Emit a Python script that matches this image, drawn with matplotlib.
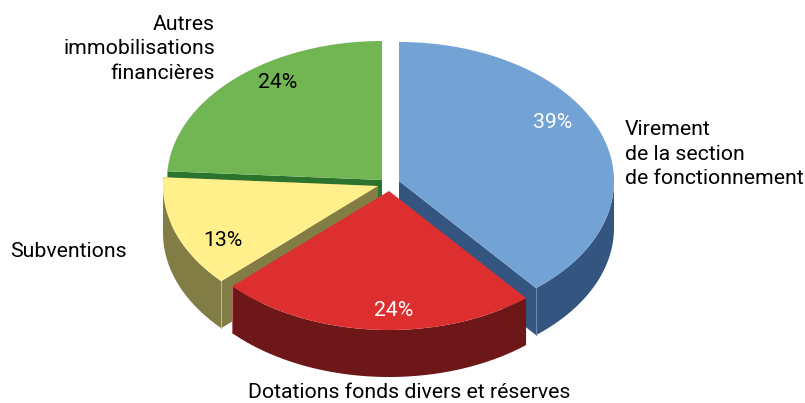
import numpy as np
import matplotlib
matplotlib.use("Agg")
from matplotlib import pyplot as plt
from matplotlib.patches import Polygon

# parts, clockwise from the top
categories = ["Virement de la section de fonctionnement", "Dotations fonds divers et réserves",
              "Subventions", "Autres immobilisations financières"]
values = [39, 24, 13, 24]
pct_labels = ["39%", "24%", "13%", "24%"]

top_colors = ["#73A2D5", "#DE2F30", "#FFF08C", "#72B653"]
side_colors = ["#33557F", "#6E1719", "#827C45", "#2A742E"]
edge_colors = ["#6F8CB0", "#B06A6A", "#BDB98F", "#2A742E"]
text_colors = ["white", "white", "black", "black"]

# apex of every exploded slice, in pixels
apex_x = [399, 389, 378, 382]
apex_y = [181, 191, 186, 180]
pct_pos = [(552.5, 128), (393.5, 316), (223, 246), (278, 88)]

RX = 215
RY = 139
DEPTH = 47
FONT = "Roboto"
FS = 15.3

fig = plt.figure(figsize=(8.05, 4.03), dpi=100)
ax = fig.add_axes([0, 0, 1, 1])
ax.set_xlim(0, 805)
ax.set_ylim(403, 0)
ax.axis("off")


def rim(cx, cy, a0, a1):
    t = np.radians(np.linspace(a0, a1, 200))
    return np.column_stack([cx + RX * np.sin(t), cy - RY * np.cos(t)])


def draw_slice(i, a0, a1, z):
    cx, cy = apex_x[i], apex_y[i]
    down = np.array([0, DEPTH])
    apex = np.array([cx, cy])
    # outer wall, only the part that faces the viewer
    f0, f1 = max(a0, 90), min(a1, 270)
    if f1 > f0:
        r = rim(cx, cy, f0, f1)
        ax.add_patch(Polygon(np.vstack([r, (r + down)[::-1]]), closed=True,
                             fc=side_colors[i], ec="none", zorder=z))
    # cut faces
    for a, seen in ((a0, 180 < a0 < 360), (a1, 0 < a1 < 180 or a1 == 360 or i == 2)):
        if seen:
            p = rim(cx, cy, a, a)[0]
            ax.add_patch(Polygon([apex, p, p + down, apex + down], closed=True,
                                 fc=side_colors[i], ec="none", zorder=z))
    # light line on the outer corner
    if 90 < a1 < 270:
        p = rim(cx, cy, a1, a1)[0]
        ax.plot([p[0], p[0]], [p[1], p[1] + DEPTH], color=edge_colors[i], lw=0.8, zorder=z + 0.1)
    elif 90 < a0 < 270:
        p = rim(cx, cy, a0, a0)[0]
        ax.plot([p[0], p[0]], [p[1], p[1] + DEPTH], color=edge_colors[i], lw=0.8, zorder=z + 0.1)
    ax.add_patch(Polygon(np.vstack([apex, rim(cx, cy, a0, a1)]), closed=True,
                         fc=top_colors[i], ec="none", zorder=z + 0.2))


stops = np.concatenate([[0], np.cumsum(values)]) / sum(values) * 360
# back slices first
for z, i in enumerate([3, 2, 0, 1]):
    draw_slice(i, stops[i], stops[i + 1], z + 1)

for i, (x, y) in enumerate(pct_pos):
    ax.text(x, y, pct_labels[i], color=text_colors[i], fontsize=FS, family=FONT,
            ha="center", va="baseline", zorder=10)

labels = [("Autres", 215, 30, "right"), ("immobilisations", 215, 54, "right"),
          ("financières", 215, 79, "right"),
          ("Virement", 625, 135, "left"), ("de la section", 625, 160, "left"),
          ("de fonctionnement", 625, 184, "left"),
          ("Subventions", 10, 257, "left"), ("Dotations fonds divers et réserves", 248, 398, "left")]
for txt, x, y, ha in labels:
    ax.text(x, y, txt, color="black", fontsize=FS, family=FONT, ha=ha, va="baseline", zorder=10)

fig.savefig("out.png", dpi=100)
